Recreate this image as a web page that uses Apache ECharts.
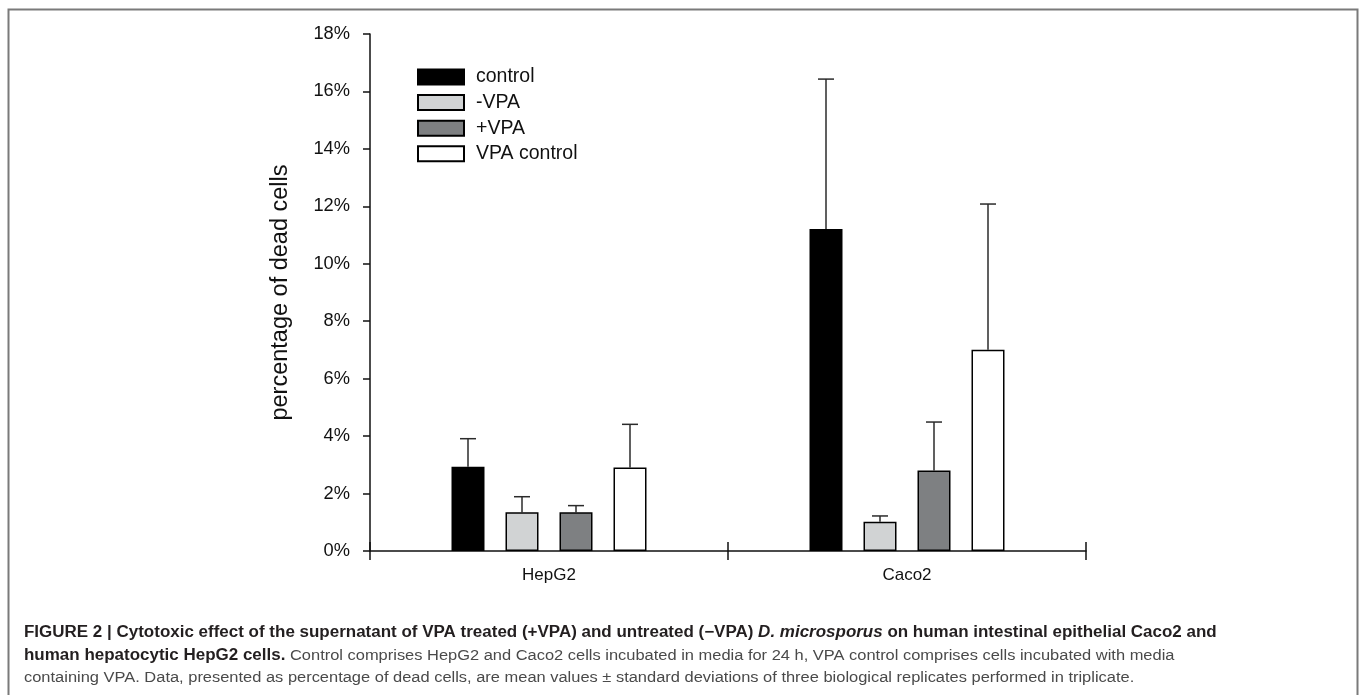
<!DOCTYPE html>
<html>
<head>
<meta charset="utf-8">
<script src="https://cdn.jsdelivr.net/npm/echarts@6/dist/echarts.min.js"></script>
<style>
html,body{margin:0;padding:0;background:#fff;}
#chart{width:1362px;height:695px;}
</style>
</head>
<body>
<div id="chart"></div>
<script>
// ---- data ----
var categories = ['HepG2', 'Caco2'];
var seriesNames = ['control', '-VPA', '+VPA', 'VPA control'];
var controlMean = [2.93, 11.21];
var controlSD = [0.98, 5.22];
var minusVPAMean = [1.35, 1.02];
var minusVPASD = [0.54, 0.20];
var plusVPAMean = [1.35, 2.80];
var plusVPASD = [0.23, 1.69];
var vpaControlMean = [2.91, 7.01];
var vpaControlSD = [1.50, 5.07];
var yTicks = [0, 2, 4, 6, 8, 10, 12, 14, 16, 18];

var means = [controlMean, minusVPAMean, plusVPAMean, vpaControlMean];
var sds = [controlSD, minusVPASD, plusVPASD, vpaControlSD];
var colors = ['#000000', '#d1d3d4', '#7e8082', '#ffffff'];

var FONT = 'Liberation Sans, Arial, sans-serif';
var BAR_W = 33, BAR_STEP = 54;

var chart = echarts.init(document.getElementById('chart'));

var series = [];
means.forEach(function (m, si) {
  series.push({
    name: seriesNames[si],
    type: 'bar',
    xAxisIndex: 0,
    data: m,
    barWidth: BAR_W,
    barGap: ((BAR_STEP - BAR_W) / BAR_W * 100) + '%',
    itemStyle: { color: colors[si], borderColor: '#000', borderWidth: 1.5 },
    emphasis: { disabled: true },
    z: 2
  });
});
means.forEach(function (m, si) {
  series.push({
    name: seriesNames[si] + ' sd',
    type: 'custom',
    xAxisIndex: 0,
    data: m.map(function (v, i) { return [i, v, v + sds[si][i]]; }),
    renderItem: function (params, api) {
      var c = api.value(0);
      var lo = api.coord([c, api.value(1)]);
      var hi = api.coord([c, api.value(2)]);
      var x = lo[0] + (si - 1.5) * BAR_STEP;
      var cap = 8;
      return {
        type: 'group',
        children: [
          { type: 'line', shape: { x1: x, y1: lo[1], x2: x, y2: hi[1] }, style: { stroke: '#2b2b2b', lineWidth: 1.5 } },
          { type: 'line', shape: { x1: x - cap, y1: hi[1], x2: x + cap, y2: hi[1] }, style: { stroke: '#2b2b2b', lineWidth: 1.5 } }
        ]
      };
    },
    z: 1,
    silent: true
  });
});

var caption =
  '{b|FIGURE 2 | Cytotoxic effect of the supernatant of VPA treated (+VPA) and untreated (\u2212VPA) }{bi|D. microsporus}{b| on human intestinal epithelial Caco2 and}\n' +
  '{b|human hepatocytic HepG2 cells.}{r| Control comprises HepG2 and Caco2 cells incubated in media for 24 h, VPA control comprises cells incubated with media}\n' +
  '{r|containing VPA. Data, presented as percentage of dead cells, are mean values \u00b1 standard deviations of three biological replicates performed in triplicate.}';

var CAP_FS = 15.8, CAP_FS_R = 15.3, CAP_LH = 22.2;

var option = {
  backgroundColor: '#ffffff',
  animation: false,
  textStyle: { fontFamily: FONT },
  graphic: [{
    type: 'rect', left: 6, top: 7,
    shape: { width: 1349, height: 760 },
    style: { fill: 'none', stroke: '#7a7a7a', lineWidth: 2 },
    silent: true
  }, {
    type: 'text',
    x: 24, y: 622,
    scaleX: 1.075,
    silent: true,
    style: {
      text: caption,
      fontFamily: FONT,
      fontSize: CAP_FS,
      lineHeight: CAP_LH,
      fill: '#231f20',
      rich: {
        b: { fontFamily: FONT, fontWeight: 'bold', fontSize: CAP_FS, fill: '#231f20', lineHeight: CAP_LH },
        bi: { fontFamily: FONT, fontWeight: 'bold', fontStyle: 'italic', fontSize: CAP_FS, fill: '#231f20', lineHeight: CAP_LH },
        r: { fontFamily: FONT, fontWeight: 'normal', fontSize: CAP_FS_R, fill: '#4a4a4a', lineHeight: CAP_LH }
      }
    }
  }],
  legend: {
    data: seriesNames,
    orient: 'vertical',
    left: 417, top: 67,
    padding: 0,
    itemWidth: 46, itemHeight: 15, itemGap: 5.6,
    icon: 'rect',
    selectedMode: false,
    textStyle: { fontFamily: FONT, fontSize: 19.5, color: '#111', padding: [0, 0, 0, 7] }
  },
  grid: { left: 370, right: 276, top: 34, bottom: 144, containLabel: false },
  xAxis: [{
    type: 'category',
    data: categories,
    boundaryGap: true,
    axisLine: { lineStyle: { color: '#111', width: 1.5 } },
    axisTick: { show: true, length: 9, lineStyle: { color: '#111', width: 1.5 } },
    axisLabel: { fontFamily: FONT, fontSize: 17, color: '#111', margin: 16 }
  }, {
    type: 'category',
    data: categories,
    position: 'bottom',
    boundaryGap: true,
    axisLine: { show: false },
    axisTick: { show: true, inside: true, length: 9, lineStyle: { color: '#111', width: 1.5 } },
    axisLabel: { show: false }
  }],
  yAxis: {
    type: 'value',
    min: yTicks[0], max: yTicks[yTicks.length - 1], interval: 2,
    name: 'percentage of dead cells',
    nameLocation: 'middle',
    nameGap: 77,
    nameTextStyle: { fontFamily: FONT, fontSize: 23.5, color: '#111' },
    axisLine: { show: true, lineStyle: { color: '#111', width: 1.5 } },
    axisTick: { show: true, length: 7, lineStyle: { color: '#111', width: 1.5 } },
    axisLabel: { fontFamily: FONT, fontSize: 18.3, color: '#111', margin: 20, formatter: '{value}%' },
    splitLine: { show: false }
  },
  series: series
};
chart.setOption(option);
</script>
</body>
</html>
